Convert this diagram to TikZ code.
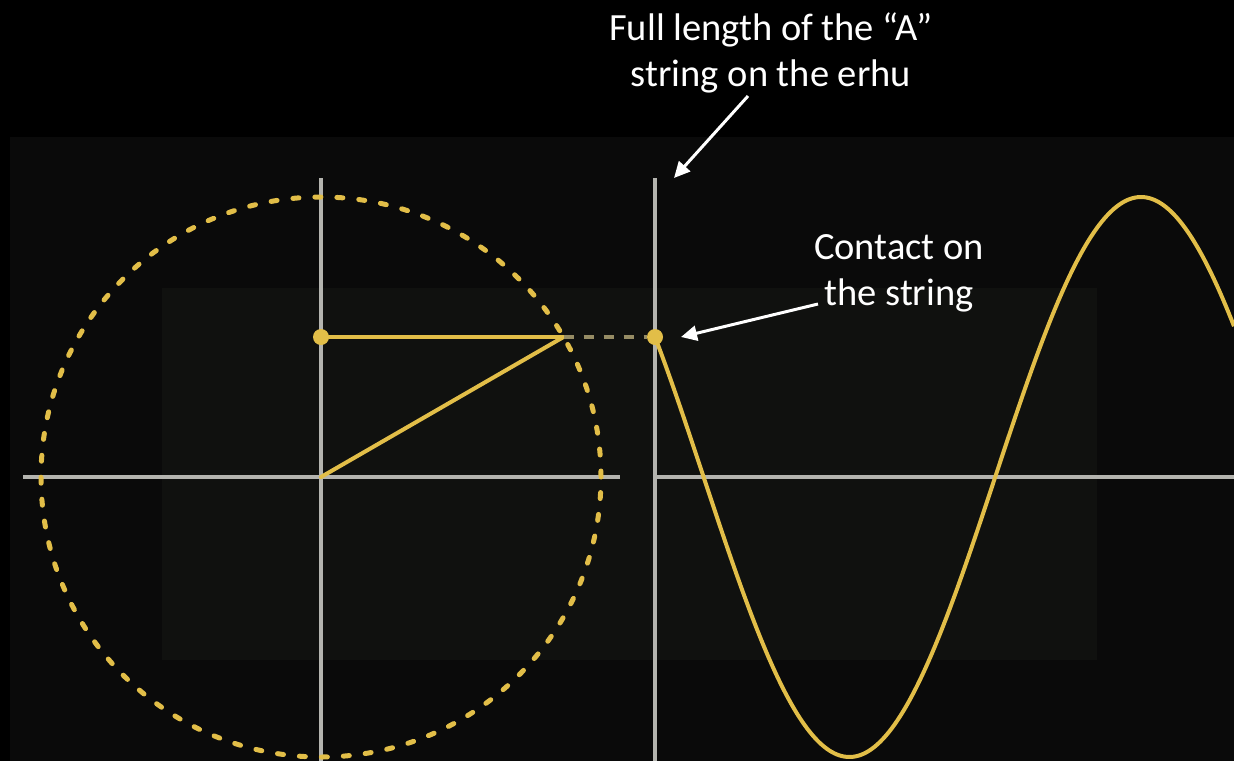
\documentclass[tikz,border=0pt]{standalone}
\usepackage{fontspec}
\setmainfont{Carlito}
\usetikzlibrary{arrows.meta}
\definecolor{gold}{RGB}{226,190,72}
\definecolor{axisgray}{RGB}{180,180,175}
\definecolor{panel}{RGB}{10,10,10}
\definecolor{inner}{RGB}{16,17,15}
\definecolor{dashgray}{RGB}{150,140,100}
\tikzset{
  axis/.style={axisgray, line width=3.2pt},
  goldline/.style={gold, line width=4pt, line cap=round},
  dot/.style={circle, fill=gold, inner sep=0pt, minimum size=16pt},
  label/.style={white, font=\fontsize{38.5}{46}\selectfont, align=center, inner sep=0pt},
  callout/.style={white, line width=3pt, -{Triangle[length=16pt,width=15pt]}}
}
\begin{document}
\begin{tikzpicture}[x=1pt,y=-1pt]
\fill[black] (0,0) rectangle (1234,761);
\useasboundingbox (0,0) rectangle (1234,761);
\fill[panel] (10,137) rectangle (1234,761);
\fill[inner] (162,288) rectangle (1097,660);
% axes
\draw[axis] (321,178) -- (321,761);
\draw[axis] (23,477) -- (620,477);
\draw[axis] (655,178) -- (655,761);
\draw[axis] (655,477) -- (1234,477);
% circle
\coordinate (O) at (321,477);
\coordinate (P) at (563.5,337);
\draw[gold, line width=5pt, line cap=round, dash pattern=on 6pt off 16pt] (O) circle (280pt);
% dots
\node[dot] (p) at (321,337) {};
\node[dot] (q) at (655,337) {};
% lines
\draw[goldline] (p) -- (P);
\draw[goldline] (O) -- (P);
\draw[dashgray, line width=4pt, dash pattern=on 10pt off 10pt] (P) -- (q);
% sine wave
\draw[gold, line width=4pt] plot[domain=655:1234, samples=240, smooth] (\x, {477-280*sin(150+(\x-655)/1.62)});
% labels
\node[label] (t1) at (771,53) {Full length of the “A”\\string on the erhu};
\node[label] (t2) at (899,273) {Contact on\\the string};
\coordinate (a1s) at (748,96);
\coordinate (a1e) at (674,178);
\coordinate (a2s) at (818,304);
\coordinate (a2e) at (681,337);
\draw[callout] (a1s) -- (a1e);
\draw[callout] (a2s) -- (a2e);
\end{tikzpicture}
\end{document}
